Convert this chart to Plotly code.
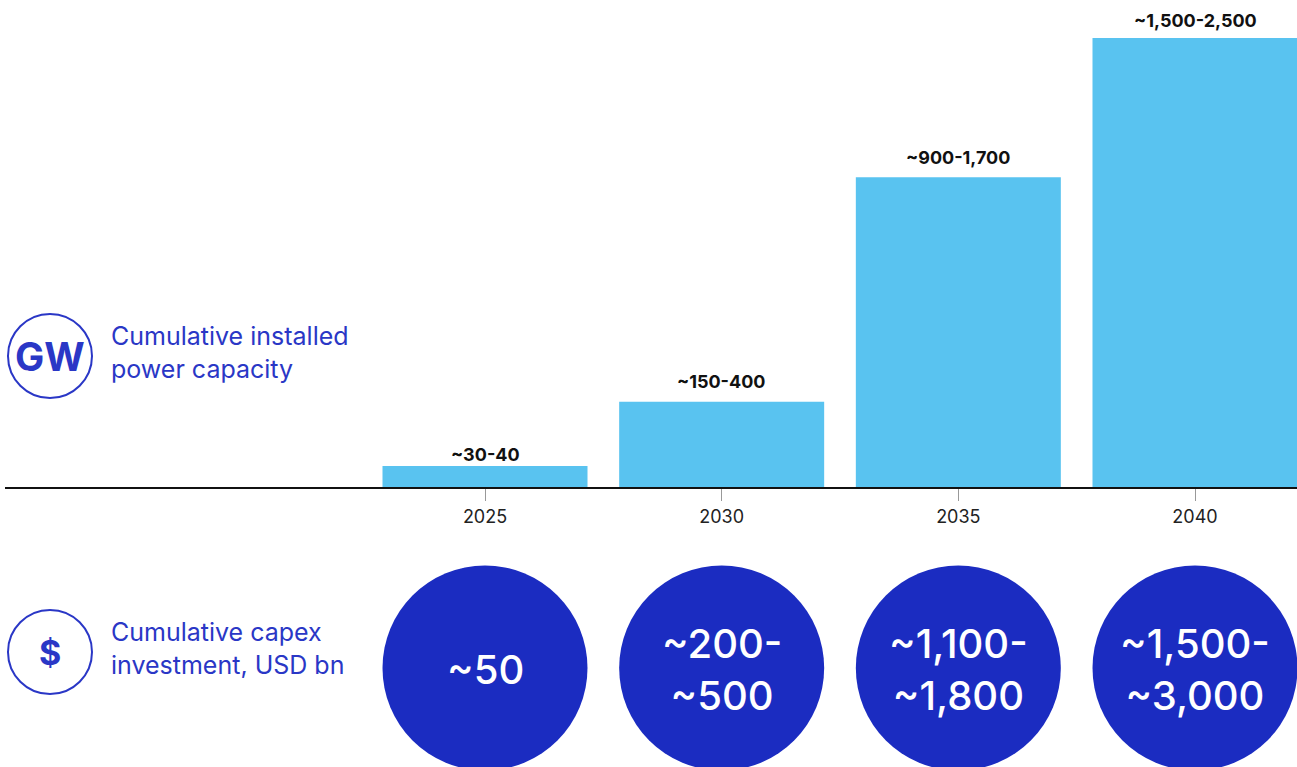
import plotly.graph_objects as go

# ---- data ----
years = [2025, 2030, 2035, 2040]
capacity_gw = [94, 380, 1380, 2000]          # bar heights
capacity_labels = ["~30-40", "~150-400", "~900-1,700", "~1,500-2,500"]
capex_labels = ["~50", "~200-<br>~500", "~1,100-<br>~1,800", "~1,500-<br>~3,000"]
tick_labels = ["2025", "2030", "2035", "2040"]

W, H = 1297, 767
ML = 5
PW = W - ML
AXIS_Y = 487          # pixel row of the x axis line
BAR_COLOR = "#59c3f0"
CIRCLE_COLOR = "#1b2cc1"
TEXT_BLUE = "#2a37c6"
FONT = "Inter, Liberation Sans, Arial"
label_shift = [11, 20, 20, 18]

px_per_year = (1195 - 485) / 15.0
x0 = 2025 - (485 - ML) / px_per_year
x1 = 2040 + (W - 1195) / px_per_year
bar_w = 205 / px_per_year

ymax = capacity_gw[-1] * AXIS_Y / 449.0

def py(pix):
    return (H - pix) / H

def pxp(pix):
    return (pix - ML) / PW

fig = go.Figure()
fig.add_trace(go.Bar(
    x=years, y=capacity_gw, width=bar_w,
    marker=dict(color=BAR_COLOR, line=dict(width=0)),
    hoverinfo="skip", showlegend=False,
))

annotations = []
for yr, v, lab, sh in zip(years, capacity_gw, capacity_labels, label_shift):
    annotations.append(dict(
        x=yr, y=v, xref="x", yref="y", text="<b>%s</b>" % lab, showarrow=False,
        yanchor="middle", yshift=sh,
        font=dict(family=FONT, size=18, color="#111"),
    ))

shapes = []
cy = py(669)
for yr, lab in zip(years, capex_labels):
    shapes.append(dict(
        type="circle", xref="x", yref="paper",
        xsizemode="pixel", ysizemode="pixel",
        xanchor=yr, yanchor=py(668),
        x0=-102.5, x1=102.5, y0=-102.5, y1=102.5,
        fillcolor=CIRCLE_COLOR, line=dict(width=0), layer="above",
    ))
    annotations.append(dict(
        x=yr, y=cy, xref="x", yref="paper", text=lab, showarrow=False,
        xanchor="center", yanchor="middle",
        font=dict(family=FONT, size=40, color="white", weight=500),
    ))

# left icons
for cpix, icon, isize, label in [
    (356, "<b>GW</b>", 39, "Cumulative installed<br>power capacity"),
    (652, "<b>$</b>", 34, "Cumulative capex<br>investment, USD bn"),
]:
    shapes.append(dict(
        type="circle", xref="paper", yref="paper",
        xsizemode="pixel", ysizemode="pixel",
        xanchor=pxp(50), yanchor=py(cpix),
        x0=-42, x1=42, y0=-42, y1=42,
        fillcolor="rgba(0,0,0,0)", line=dict(width=2, color=TEXT_BLUE),
    ))
    annotations.append(dict(
        x=pxp(50), y=py(cpix), xref="paper", yref="paper", text=icon,
        showarrow=False, xanchor="center", yanchor="middle",
        font=dict(family=FONT, size=isize, color=TEXT_BLUE),
    ))
    annotations.append(dict(
        x=pxp(109), y=py(cpix - 4), xref="paper", yref="paper", text=label,
        showarrow=False, xanchor="left", yanchor="middle", align="left",
        font=dict(family=FONT, size=25, color=TEXT_BLUE),
    ))

fig.update_layout(
    width=W, height=H,
    margin=dict(l=ML, r=0, t=0, b=0),
    paper_bgcolor="white", plot_bgcolor="white",
    showlegend=False,
    xaxis=dict(
        range=[x0, x1], tickmode="array", tickvals=years, ticktext=tick_labels,
        showgrid=False, zeroline=False, showline=True, linecolor="#111", linewidth=2,
        ticks="outside", ticklen=12, tickcolor="#999", tickwidth=1,
        tickfont=dict(family=FONT, size=18, color="#222"),
        fixedrange=True,
    ),
    yaxis=dict(
        domain=[1 - AXIS_Y / H, 1], range=[0, ymax], visible=False,
        showgrid=False, zeroline=False, fixedrange=True,
    ),
    shapes=shapes, annotations=annotations,
)

fig.write_html("out.html", config={"displayModeBar": False})
